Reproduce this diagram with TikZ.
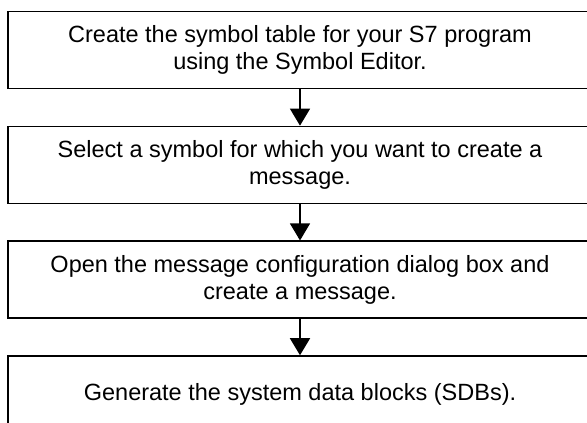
\documentclass[tikz,border=0pt]{standalone}
\usepackage{fontspec}
\setmainfont{Liberation Sans}
\usetikzlibrary{arrows.meta,positioning}
\tikzset{
  stepbox/.style={draw,line width=1.3pt,minimum width=584pt,minimum height=77pt,
    align=center,inner sep=0pt,font=\fontsize{23.5}{27}\selectfont},
  flowarrow/.style={-{Triangle[width=20pt,length=17pt]},line width=1.3pt}
}
\begin{document}
\begin{tikzpicture}[x=1pt,y=1pt,node distance=36.5pt]
  \useasboundingbox (0,0) rectangle (587,423);
  \clip (0,0) rectangle (587,423);
  \node[stepbox] (sym) at (300,373) {Create the symbol table for your S7 program\\using the Symbol Editor.};
  \node[stepbox,below=of sym] (sel) {Select a symbol for which you want to create a\\message.};
  \node[stepbox,below=of sel] (cfg) {Open the message configuration dialog box and\\create a message.};
  \node[stepbox,below=of cfg] (sdb) {Generate the system data blocks (SDBs).};
  \draw[flowarrow] (sym) -- (sel);
  \draw[flowarrow] (sel) -- (cfg);
  \draw[flowarrow] (cfg) -- (sdb);
\end{tikzpicture}
\end{document}
